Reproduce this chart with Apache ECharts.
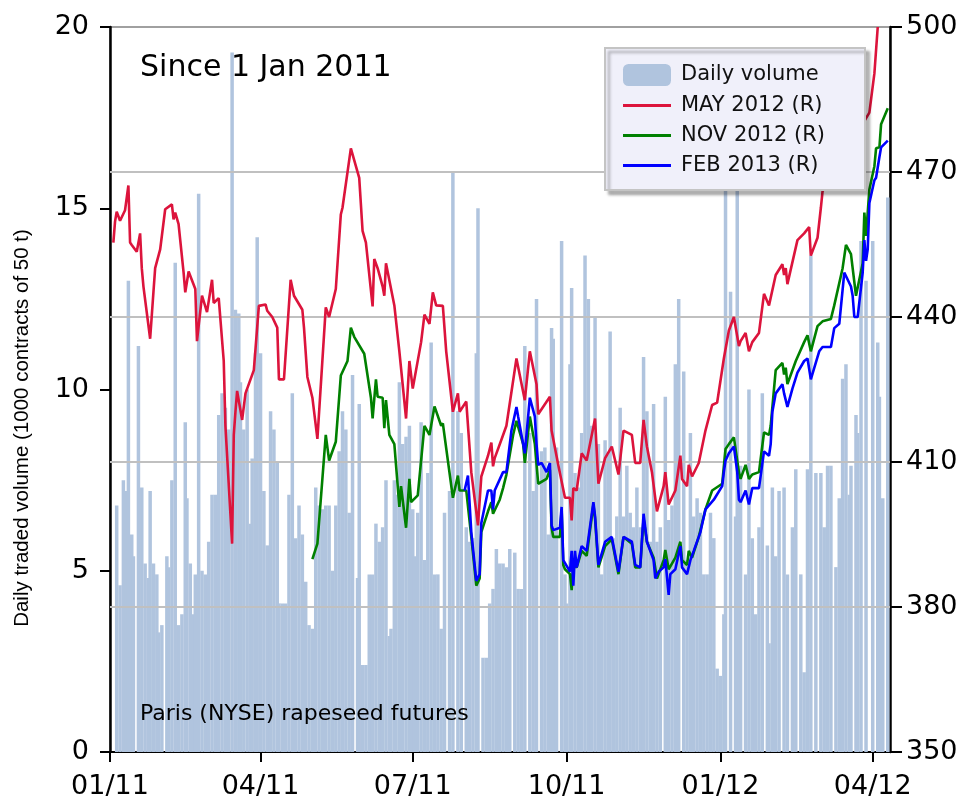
<!DOCTYPE html>
<html>
<head>
<meta charset="utf-8">
<script src="https://cdn.jsdelivr.net/npm/echarts@6/dist/echarts.min.js"></script>
<style>
html,body{margin:0;padding:0;background:#fff}
#chart{width:965px;height:804px}
</style>
</head>
<body>
<div id="chart"></div>
<script>
// Daily traded volume: day number counted from 1 Jan 2011 (day 0), and volume in 1000 contracts
const volumeDays = [4,6,8,10,11,13,14,17,19,21,23,24,26,28,29,31,34,35,37,39,41,43,45,46,48,50,51,53,55,57,59,61,63,65,67,69,71,73,75,77,78,80,82,84,85,87,88,90,92,94,96,98,100,101,103,105,107,109,111,113,115,117,119,121,123,125,127,129,131,133,135,137,139,141,143,145,148,149,151,153,155,157,159,161,163,165,167,168,170,171,173,175,177,179,181,182,184,186,188,190,192,194,196,198,200,203,205,208,210,213,215,217,219,220,223,225,227,229,231,233,235,237,239,242,244,246,248,251,253,255,258,260,262,264,265,267,270,272,273,275,276,278,280,282,284,286,288,290,292,294,296,298,299,301,303,305,307,309,311,313,315,317,319,321,323,325,327,329,332,334,336,338,340,343,345,347,349,351,353,355,357,359,361,363,365,367,368,371,374,375,377,380,382,384,386,388,390,393,394,396,398,400,403,405,408,410,413,415,417,419,422,425,427,429,431,434,436,438,440,442,443,446,447,449,452,456,459,460,462,465];
const volume = [6.8,4.6,7.5,7.2,13.0,6.0,5.4,11.2,7.3,5.2,4.8,7.2,5.2,4.9,3.3,3.5,5.4,5.1,7.5,13.5,3.5,3.8,9.1,7.0,5.2,3.8,4.9,15.4,5.0,4.9,5.8,7.1,7.1,9.3,9.9,9.5,8.9,19.3,12.2,12.1,10.2,8.9,10.0,6.3,8.1,11.0,14.2,11.0,7.2,5.7,9.4,8.9,8.0,4.1,4.1,4.1,7.1,9.9,5.9,6.8,6.0,4.7,3.5,3.4,7.3,6.8,6.7,6.8,6.8,5.0,6.8,8.3,9.4,8.9,6.6,10.4,4.8,9.6,2.4,2.4,4.9,4.9,6.3,5.8,6.2,7.5,3.2,3.4,7.5,7.1,10.2,8.5,8.7,9.0,6.7,5.4,6.6,9.1,5.3,7.7,11.3,4.9,4.9,3.4,6.6,7.2,16.0,9.4,8.8,6.2,5.8,5.9,11.0,15.0,2.6,2.6,4.1,4.5,5.6,5.2,5.2,5.1,5.6,5.5,4.5,4.5,11.2,8.8,7.2,12.5,8.3,8.4,6.0,11.7,11.4,8.4,14.1,4.9,4.1,10.7,12.8,7.7,7.3,8.8,13.7,12.5,9.0,12.0,8.5,4.9,8.6,8.2,11.6,5.9,6.5,9.5,6.5,7.9,6.6,6.2,7.3,6.2,10.9,9.4,5.8,9.6,5.8,6.2,9.8,6.4,6.8,10.7,12.5,10.5,5.3,8.8,6.5,7.0,6.6,4.9,4.9,6.6,5.9,2.3,2.1,3.8,17.0,12.7,6.5,17.0,7.9,4.9,10.0,5.9,3.8,6.2,9.9,5.7,3.0,7.3,5.4,7.2,7.3,4.9,6.2,7.8,4.9,2.2,7.8,13.7,7.7,7.7,6.2,7.9,7.9,5.1,7.0,10.3,10.7,7.1,7.9,9.3,8.8,14.1,13.0,14.1,11.3,9.8,7.0,15.3];

// Futures prices (EUR/t, right axis)
const mayDates = ['2011-01-03','2011-01-04','2011-01-05','2011-01-07','2011-01-10','2011-01-12','2011-01-13','2011-01-14','2011-01-17','2011-01-19','2011-01-20','2011-01-21','2011-01-25','2011-01-27','2011-01-28','2011-01-31','2011-02-03','2011-02-07','2011-02-08','2011-02-09','2011-02-11','2011-02-14','2011-02-15','2011-02-17','2011-02-21','2011-02-22','2011-02-25','2011-02-28','2011-03-03','2011-03-04','2011-03-07','2011-03-10','2011-03-11','2011-03-15','2011-03-16','2011-03-17','2011-03-18','2011-03-21','2011-03-23','2011-03-28','2011-03-29','2011-03-31','2011-04-04','2011-04-05','2011-04-08','2011-04-11','2011-04-12','2011-04-15','2011-04-19','2011-04-21','2011-04-26','2011-04-27','2011-04-29','2011-05-02','2011-05-05','2011-05-10','2011-05-12','2011-05-16','2011-05-19','2011-05-20','2011-05-25','2011-05-30','2011-06-01','2011-06-03','2011-06-07','2011-06-08','2011-06-10','2011-06-13','2011-06-14','2011-06-15','2011-06-20','2011-06-23','2011-06-27','2011-06-29','2011-07-01','2011-07-06','2011-07-08','2011-07-11','2011-07-13','2011-07-15','2011-07-19','2011-07-21','2011-07-25','2011-07-28','2011-07-29','2011-08-02','2011-08-05','2011-08-09','2011-08-11','2011-08-15','2011-08-17','2011-08-18','2011-08-19','2011-08-23','2011-08-26','2011-09-01','2011-09-06','2011-09-09','2011-09-13','2011-09-14','2011-09-21','2011-09-22','2011-09-26','2011-09-30','2011-10-03','2011-10-04','2011-10-05','2011-10-07','2011-10-10','2011-10-13','2011-10-18','2011-10-20','2011-10-24','2011-10-28','2011-11-01','2011-11-04','2011-11-09','2011-11-11','2011-11-14','2011-11-16','2011-11-18','2011-11-21','2011-11-24','2011-11-28','2011-11-29','2011-12-01','2011-12-05','2011-12-08','2011-12-09','2011-12-12','2011-12-13','2011-12-15','2011-12-19','2011-12-23','2011-12-27','2011-12-30','2012-01-03','2012-01-06','2012-01-09','2012-01-12','2012-01-13','2012-01-16','2012-01-18','2012-01-20','2012-01-24','2012-01-27','2012-01-30','2012-02-03','2012-02-07','2012-02-08','2012-02-09','2012-02-10','2012-02-16','2012-02-20','2012-02-23','2012-02-24','2012-02-28','2012-03-01','2012-03-02','2012-03-30','2012-04-02','2012-04-04'];
const may2012 = [455.4,459.7,461.8,459.9,462.1,467.2,455.4,454.9,453.5,457.3,450.1,446.3,435.5,445.3,450.1,454.0,462.3,463.3,460.2,461.6,459.2,449.2,445.1,449.4,445.8,435.0,444.4,441.0,447.7,442.9,443.9,430.9,417.5,393.1,415.6,420.4,424.7,418.7,424.2,429.0,429.0,442.3,442.6,441.3,440.0,437.8,427.1,427.1,447.7,444.4,441.5,437.7,427.6,423.3,414.8,442.0,440.0,445.8,461.2,462.6,474.9,468.8,457.8,455.4,442.2,452.0,450.1,446.3,444.4,451.1,442.4,432.9,419.0,430.9,425.2,434.8,440.5,438.6,445.1,442.4,442.3,432.9,420.4,424.2,420.4,422.5,407.9,396.9,407.0,411.3,414.0,409.1,410.8,414.6,417.5,431.4,422.8,432.9,426.1,419.9,423.5,416.5,409.4,402.6,402.6,397.9,404.6,404.1,411.8,410.3,419.0,405.5,410.8,413.2,407.4,416.5,415.6,409.8,409.8,418.7,413.2,407.9,399.8,405.0,407.9,401.2,404.1,411.3,406.5,405.0,409.4,407.0,409.8,416.5,421.8,422.3,431.4,437.2,440.0,434.0,435.0,436.7,432.9,434.8,436.7,444.8,442.4,448.7,450.9,448.7,450.1,446.8,455.9,457.3,458.6,452.7,456.4,462.6,466.0,482.3,490.4,500.0];

const novDates = ['2011-05-02','2011-05-05','2011-05-10','2011-05-12','2011-05-16','2011-05-19','2011-05-23','2011-05-25','2011-05-27','2011-06-02','2011-06-06','2011-06-07','2011-06-09','2011-06-10','2011-06-13','2011-06-14','2011-06-15','2011-06-17','2011-06-20','2011-06-23','2011-06-24','2011-06-27','2011-06-29','2011-06-30','2011-07-04','2011-07-08','2011-07-11','2011-07-14','2011-07-18','2011-07-19','2011-07-25','2011-07-28','2011-07-29','2011-08-02','2011-08-05','2011-08-08','2011-08-10','2011-08-11','2011-08-15','2011-08-17','2011-08-18','2011-08-22','2011-08-24','2011-08-26','2011-08-30','2011-09-01','2011-09-05','2011-09-06','2011-09-09','2011-09-12','2011-09-14','2011-09-19','2011-09-21','2011-09-22','2011-09-23','2011-09-27','2011-09-28','2011-09-29','2011-09-30','2011-10-03','2011-10-04','2011-10-05','2011-10-07','2011-10-10','2011-10-13','2011-10-17','2011-10-18','2011-10-20','2011-10-24','2011-10-28','2011-11-01','2011-11-04','2011-11-09','2011-11-11','2011-11-14','2011-11-16','2011-11-18','2011-11-22','2011-11-24','2011-11-28','2011-11-29','2011-12-01','2011-12-05','2011-12-08','2011-12-09','2011-12-12','2011-12-13','2011-12-15','2011-12-19','2011-12-23','2011-12-27','2012-01-02','2012-01-04','2012-01-06','2012-01-09','2012-01-12','2012-01-13','2012-01-16','2012-01-18','2012-01-20','2012-01-24','2012-01-27','2012-01-30','2012-01-31','2012-02-02','2012-02-03','2012-02-07','2012-02-08','2012-02-09','2012-02-10','2012-02-15','2012-02-20','2012-02-22','2012-02-24','2012-02-28','2012-03-02','2012-03-07','2012-03-09','2012-03-14','2012-03-16','2012-03-19','2012-03-20','2012-03-22','2012-03-26','2012-03-27','2012-03-28','2012-03-30','2012-04-02','2012-04-03','2012-04-05','2012-04-06','2012-04-10'];
const nov2012 = [389.9,393.1,415.6,410.3,414.2,427.9,430.9,437.8,435.9,432.4,423.3,419.0,427.1,423.5,423.3,417.0,422.8,415.6,413.7,400.7,405.0,396.4,406.5,401.7,403.1,417.5,415.6,421.5,417.5,418.0,402.6,407.2,404.1,404.1,394.5,384.4,385.9,395.5,399.8,401.7,399.3,402.2,404.6,407.4,415.6,418.5,413.7,409.8,419.4,413.7,405.5,406.5,408.4,396.4,394.5,394.5,400.2,388.7,387.8,386.8,383.5,388.7,388.2,391.6,390.6,401.2,398.3,388.2,392.6,394.0,386.8,394.5,393.1,388.2,388.2,398.3,393.5,390.2,385.9,389.7,391.8,387.8,390.2,393.5,389.7,388.7,391.6,390.2,394.5,400.2,404.1,405.5,412.7,413.7,415.1,407.9,406.5,409.4,406.5,407.4,407.9,416.1,415.6,417.5,425.2,429.0,430.5,428.1,429.5,426.1,430.9,434.8,436.2,432.9,438.1,439.1,439.6,442.4,450.1,454.9,453.0,450.1,444.4,451.1,461.6,456.8,466.4,471.2,474.9,475.1,479.9,483.2];

const febDates = ['2011-08-01','2011-08-03','2011-08-05','2011-08-08','2011-08-10','2011-08-11','2011-08-15','2011-08-17','2011-08-18','2011-08-19','2011-08-24','2011-08-26','2011-08-29','2011-09-01','2011-09-02','2011-09-06','2011-09-09','2011-09-12','2011-09-13','2011-09-14','2011-09-16','2011-09-19','2011-09-21','2011-09-22','2011-09-23','2011-09-27','2011-09-28','2011-09-29','2011-09-30','2011-10-03','2011-10-04','2011-10-05','2011-10-06','2011-10-07','2011-10-10','2011-10-13','2011-10-17','2011-10-18','2011-10-20','2011-10-24','2011-10-28','2011-11-01','2011-11-04','2011-11-09','2011-11-11','2011-11-14','2011-11-16','2011-11-18','2011-11-22','2011-11-23','2011-11-25','2011-11-28','2011-11-29','2011-12-01','2011-12-02','2011-12-05','2011-12-08','2011-12-09','2011-12-12','2011-12-14','2011-12-16','2011-12-20','2011-12-23','2011-12-28','2012-01-02','2012-01-03','2012-01-04','2012-01-06','2012-01-09','2012-01-11','2012-01-12','2012-01-13','2012-01-16','2012-01-18','2012-01-20','2012-01-24','2012-01-27','2012-01-30','2012-01-31','2012-02-01','2012-02-03','2012-02-07','2012-02-08','2012-02-10','2012-02-13','2012-02-16','2012-02-20','2012-02-22','2012-02-24','2012-02-29','2012-03-02','2012-03-07','2012-03-09','2012-03-12','2012-03-15','2012-03-19','2012-03-20','2012-03-21','2012-03-23','2012-03-26','2012-03-27','2012-03-28','2012-03-29','2012-03-30','2012-04-02','2012-04-03','2012-04-05','2012-04-06','2012-04-10'];
const feb2013 = [404.1,407.2,395.5,385.4,386.8,397.4,404.1,404.1,400.2,404.1,407.9,407.9,416.5,421.4,419.4,411.8,423.3,419.4,413.7,409.4,409.8,407.9,409.8,396.9,395.9,396.4,400.7,389.7,389.7,387.3,391.6,384.4,391.6,388.2,392.6,391.6,401.7,398.8,388.7,393.5,394.5,387.3,394.5,393.5,388.7,388.2,399.3,393.5,389.7,385.9,387.3,388.2,389.9,382.5,386.8,387.8,392.6,388.2,386.8,389.7,391.6,395.5,400.2,402.2,405.0,407.9,410.3,411.8,413.2,407.9,402.2,401.7,404.1,401.2,404.6,404.6,412.2,411.3,413.7,420.4,424.2,426.1,424.2,421.4,425.2,428.5,430.9,431.4,427.1,432.9,433.8,433.8,437.7,438.6,449.2,446.3,444.4,440.0,440.0,449.2,455.9,451.6,454.0,463.6,468.3,468.8,473.1,475.1,476.5];

// Axis ticks
const quarterStarts = ['2011-01-01','2011-04-01','2011-07-01','2011-10-01','2012-01-01','2012-04-01'];
const quarterLabels = ['01/11','04/11','07/11','10/11','01/12','04/12'];
const priceTicks = [350, 380, 410, 440, 470, 500];
const lastDay = '2012-04-11';

// x positions are day numbers counted from 1 Jan 2011
const DAY = 86400000;
const origin = Date.UTC(2011, 0, 1);
const dayOf = s => { const p = s.split('-').map(Number); return Math.round((Date.UTC(p[0], p[1] - 1, p[2]) - origin) / DAY); };
const pairs = (dates, vals) => dates.map((d, i) => [dayOf(d), vals[i]]);
const tickDays = quarterStarts.map(dayOf);
const axisFont = 'DejaVu Sans';
const lineIcon = 'path://M0,0H48V3H0Z';

const chart = echarts.init(document.getElementById('chart'), null, {renderer: 'canvas'});
chart.setOption({
  animation: false,
  backgroundColor: '#ffffff',
  grid: {left: 110, right: 75, top: 27, bottom: 52, show: true, borderColor: '#a0a0a0', borderWidth: 2, backgroundColor: 'transparent'},
  legend: {
    orient: 'vertical', left: 605, top: 48,
    padding: [16, 40, 14, 18], itemGap: 9, itemWidth: 48, itemHeight: 22,
    backgroundColor: '#f0f0fa', borderColor: '#c4c4c4', borderWidth: 2,
    shadowColor: 'rgba(0,0,0,0.3)', shadowBlur: 3, shadowOffsetX: 4, shadowOffsetY: 4,
    textStyle: {fontFamily: axisFont, fontSize: 21, color: '#111', padding: [0, 0, 0, 5]},
    data: [
      {name: 'Daily volume', icon: 'roundRect'},
      {name: 'MAY 2012 (R)', icon: lineIcon},
      {name: 'NOV 2012 (R)', icon: lineIcon},
      {name: 'FEB 2013 (R)', icon: lineIcon}
    ]
  },
  xAxis: {
    type: 'value',
    min: tickDays[0],
    max: dayOf(lastDay) + 0.33,
    axisLine: {onZero: false, lineStyle: {color: '#000', width: 2}},
    axisTick: {show: true, customValues: tickDays, length: 10, lineStyle: {color: '#000', width: 2}},
    axisLabel: {
      customValues: tickDays, margin: 21,
      fontFamily: axisFont, fontSize: 27, color: '#000',
      formatter: v => { const i = tickDays.indexOf(v); return i >= 0 ? quarterLabels[i] : ''; }
    },
    splitLine: {show: false}
  },
  yAxis: [
    {
      type: 'value', min: 0, max: 20, interval: 5, position: 'left',
      axisLine: {show: true, lineStyle: {color: '#000', width: 2.5}},
      axisTick: {show: true, length: 10, lineStyle: {color: '#000', width: 2}},
      axisLabel: {margin: 21, fontFamily: axisFont, fontSize: 27, color: '#000'},
      splitLine: {show: false}
    },
    {
      type: 'value', min: priceTicks[0], max: priceTicks[priceTicks.length - 1], interval: 30, position: 'right',
      axisLine: {show: true, lineStyle: {color: '#000', width: 2.5}},
      axisTick: {show: true, length: 12, lineStyle: {color: '#000', width: 2}},
      axisLabel: {margin: 16, fontFamily: axisFont, fontSize: 27, color: '#000'},
      splitLine: {show: false}
    }
  ],
  series: [
    {
      name: 'Daily volume', type: 'bar', yAxisIndex: 0, z: 1,
      barWidth: 3.5, itemStyle: {color: '#b0c4de'},
      data: volumeDays.map((d, i) => [d, volume[i]])
    },
    {
      name: 'MAY 2012 (R)', type: 'line', yAxisIndex: 1, z: 3,
      symbol: 'none', showSymbol: false, clip: true,
      lineStyle: {color: '#dc143c', width: 2.6}, itemStyle: {color: '#dc143c'},
      data: pairs(mayDates, may2012),
      markLine: {
        silent: true, symbol: 'none', z: 2, animation: false,
        label: {show: false},
        lineStyle: {color: '#c0c0c0', width: 2, type: 'solid'},
        data: priceTicks.slice(1, -1).map(v => ({yAxis: v}))
      }
    },
    {
      name: 'NOV 2012 (R)', type: 'line', yAxisIndex: 1, z: 3,
      symbol: 'none', showSymbol: false, clip: true,
      lineStyle: {color: '#008000', width: 2.6}, itemStyle: {color: '#008000'},
      data: pairs(novDates, nov2012)
    },
    {
      name: 'FEB 2013 (R)', type: 'line', yAxisIndex: 1, z: 3,
      symbol: 'none', showSymbol: false, clip: true,
      lineStyle: {color: '#0000ff', width: 2.6}, itemStyle: {color: '#0000ff'},
      data: pairs(febDates, feb2013)
    }
  ],
  graphic: [
    {type: 'text', z: 10, x: 140, y: 68, style: {text: 'Since 1 Jan 2011', font: '30px "DejaVu Sans"', fill: '#000', verticalAlign: 'middle'}},
    {type: 'text', z: 10, x: 140, y: 714, style: {text: 'Paris (NYSE) rapeseed futures', font: '22px "DejaVu Sans"', fill: '#000', verticalAlign: 'middle'}},
    {type: 'text', z: 10, x: 22, y: 428, rotation: Math.PI / 2, style: {text: 'Daily traded volume (1000 contracts of 50 t)', font: '20.5px "Liberation Sans"', fill: '#000', align: 'center', verticalAlign: 'middle'}}
  ]
});
</script>
</body>
</html>
